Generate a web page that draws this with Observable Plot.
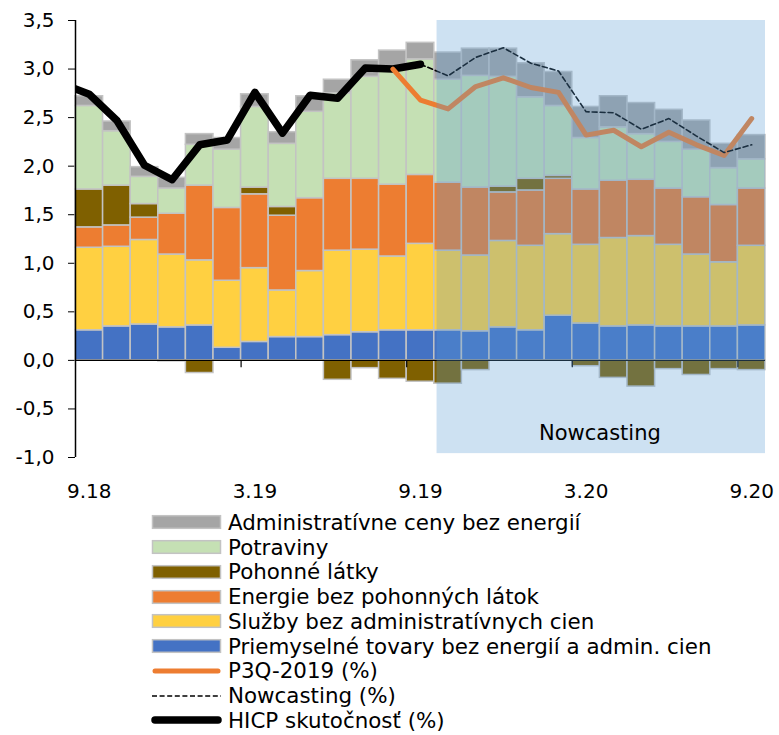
<!DOCTYPE html>
<html><head><meta charset="utf-8">
<script src="https://cdn.jsdelivr.net/npm/d3@7"></script>
<script src="https://cdn.jsdelivr.net/npm/@observablehq/plot@0.6"></script>
<style>
body{margin:0;background:#fff;font-family:"DejaVu Sans",Verdana,sans-serif;}
#legend{margin-left:151px;padding-top:5px;}
.row{display:flex;align-items:center;height:24.75px;font-size:21.4px;color:#000;white-space:nowrap;}
.row svg{margin-right:6px;flex:none;}
</style></head><body>
<div id="chart"></div>
<div id="legend"></div>
<script>
// ---- data ----
const months = ["9.18","10.18","11.18","12.18","1.19","2.19","3.19","4.19","5.19","6.19","7.19","8.19",
  "9.19","10.19","11.19","12.19","1.20","2.20","3.20","4.20","5.20","6.20","7.20","8.20","9.20"];
const tickLabels = ["9.18","3.19","9.19","3.20","9.20"];
const yTickValues = [-1,-0.5,0,0.5,1,1.5,2,2.5,3,3.5];

// stack order, bottom -> top
const seriesNames = [
  "Priemyselné tovary bez energií a admin. cien",
  "Služby bez administratívnych cien",
  "Energie bez pohonných látok",
  "Pohonné látky",
  "Potraviny",
  "Administratívne ceny bez energií"
];
const seriesColors = ["#4472c4","#ffd041","#ed7d31","#7f6000","#c5e0b4","#a5a5a5"];

const industrial = [0.31,0.35,0.37,0.34,0.36,0.13,0.19,0.24,0.24,0.26,0.29,0.31,0.31,0.31,0.30,0.34,0.31,0.46,0.38,0.35,0.36,0.35,0.35,0.35,0.36];
const services   = [0.85,0.82,0.87,0.75,0.67,0.69,0.76,0.48,0.68,0.87,0.85,0.76,0.89,0.82,0.78,0.89,0.87,0.84,0.81,0.91,0.92,0.84,0.74,0.66,0.82];
const energy     = [0.21,0.22,0.23,0.42,0.77,0.75,0.76,0.77,0.75,0.74,0.73,0.74,0.71,0.70,0.70,0.50,0.57,0.57,0.57,0.59,0.58,0.58,0.59,0.59,0.59];
const fuels      = [0.39,0.41,0.14,-0.01,-0.13,0,0.07,0.09,0,-0.20,-0.08,-0.19,-0.22,-0.24,-0.10,0.06,0.12,0.03,-0.06,-0.18,-0.27,-0.09,-0.15,-0.09,-0.10];
const food       = [0.86,0.56,0.28,0.26,0.42,0.60,0.83,0.65,0.89,0.88,1.05,1.20,1.19,1.06,1.15,1.13,0.84,0.72,0.53,0.55,0.47,0.48,0.49,0.38,0.30];
const admin      = [0.10,0.10,0.10,0.11,0.11,0.12,0.13,0.12,0.16,0.14,0.17,0.18,0.17,0.28,0.28,0.29,0.35,0.35,0.32,0.32,0.32,0.33,0.30,0.25,0.25];

// HICP actual (%), 9.18 - 9.19; previous month 8.18 runs in from the left edge
const hicpPrev = 2.85;
const hicp = [2.74,2.47,2.01,1.86,2.22,2.27,2.76,2.34,2.73,2.70,3.01,3.00,3.05];
// P3Q-2019 forecast, 8.19 - 9.20
const p3qStart = "8.19";
const p3q = [3.00,2.68,2.59,2.82,2.91,2.81,2.76,2.32,2.37,2.20,2.35,2.22,2.11,2.49];
// Nowcasting, 9.19 - 9.20
const nowStart = "9.19";
const nowcast = [3.05,2.93,3.12,3.22,3.06,2.98,2.56,2.55,2.38,2.49,2.31,2.14,2.22];

// shaded nowcasting area (x in month-index units, y in %)
const nowcastSpan = {x1: 13.1, x2: 25, y1: -0.96, y2: 3.5};
const nowcastLabel = {text: "Nowcasting", x: 19, y: -0.75};

// ---- build tables ----
const componentArrays = [industrial, services, energy, fuels, food, admin];
const rows = [];
months.forEach((m, i) => {
  componentArrays.forEach((arr, s) => {
    if (arr[i] !== 0) rows.push({i, month: m, series: seriesNames[s], value: arr[i]});
  });
});
const hicpRows = [{i: -1, v: hicpPrev}, ...hicp.map((v, k) => ({i: k, v}))];
const p3qRows = p3q.map((v, k) => ({i: months.indexOf(p3qStart) + k, v}));
const nowRows = nowcast.map((v, k) => ({i: months.indexOf(nowStart) + k, v}));
const xTickPos = tickLabels.map(l => months.indexOf(l) + 0.5);
const boundaryTicks = tickLabels.slice(1).map(l => months.indexOf(l));

const fmt = d => d.toFixed(1).replace(".", ",");

const chart = Plot.plot({
  width: 779,
  height: 505,
  marginLeft: 75,
  marginRight: 14,
  marginTop: 20,
  marginBottom: 48,
  style: {fontFamily: "'DejaVu Sans', Verdana, sans-serif", fontSize: "20px", color: "#000", background: "#fff"},
  x: {domain: [0, months.length], ticks: xTickPos, tickFormat: d => months[Math.floor(d)], tickSize: 0, tickPadding: 26, label: null},
  y: {domain: [-1, 3.5], ticks: yTickValues, tickFormat: fmt, tickSize: 7, tickPadding: 14, label: null},
  color: {domain: seriesNames, range: seriesColors},
  marks: [
    Plot.rectY(rows, Plot.stackY({
      x1: d => d.i, x2: d => d.i + 1, y: "value", z: "series", fill: "series",
      order: seriesNames, stroke: "#c3c3c3", strokeWidth: 1.5
    })),
    Plot.ruleY([0], {stroke: "#000", strokeWidth: 1.2}),
    Plot.ruleX([0], {stroke: "#000", strokeWidth: 1.5}),
    Plot.ruleX(boundaryTicks, {x: d => d, y1: 0, y2: -0.075, stroke: "#000", strokeWidth: 1.2}),
    Plot.line(hicpRows, {x: d => d.i + 0.5, y: "v", stroke: "#000", strokeWidth: 7.5, strokeLinecap: "round", strokeLinejoin: "round", clip: true}),
    Plot.line(p3qRows, {x: d => d.i + 0.5, y: "v", stroke: "#ed7d31", strokeWidth: 5, strokeLinecap: "round", strokeLinejoin: "round"}),
    Plot.line(nowRows, {x: d => d.i + 0.5, y: "v", stroke: "#000", strokeWidth: 1.6, strokeDasharray: "5,3"}),
    Plot.rect([nowcastSpan], {x1: "x1", x2: "x2", y1: "y1", y2: "y2", fill: "#5b9bd5", fillOpacity: 0.3}),
    Plot.text([nowcastLabel], {x: "x", y: "y", text: "text", fontSize: 21, fill: "#000"})
  ]
});
document.getElementById("chart").appendChild(chart);

// ---- legend ----
const legendItems = [
  ...seriesNames.map((n, s) => ({label: n, type: "box", color: seriesColors[s]})).reverse(),
  {label: "P3Q-2019 (%)", type: "line", color: "#ed7d31", width: 5},
  {label: "Nowcasting (%)", type: "dash", color: "#000", width: 1.6},
  {label: "HICP skutočnosť (%)", type: "line", color: "#000", width: 7.5}
];
const legend = d3.select("#legend");
legendItems.forEach(item => {
  const row = legend.append("div").attr("class", "row");
  const svg = row.append("svg").attr("width", 71).attr("height", 20);
  if (item.type === "box") {
    svg.append("rect").attr("x", 1.5).attr("y", 3.7).attr("width", 68).attr("height", 12.6)
      .attr("fill", item.color).attr("stroke", "#c3c3c3").attr("stroke-width", 1.5);
  } else {
    svg.append("line").attr("x1", item.type === "dash" ? 1 : 4).attr("x2", item.type === "dash" ? 70 : 67)
      .attr("y1", 10).attr("y2", 10)
      .attr("stroke", item.color).attr("stroke-width", item.width)
      .attr("stroke-linecap", item.type === "dash" ? "butt" : "round")
      .attr("stroke-dasharray", item.type === "dash" ? "5,2.6" : null);
  }
  row.append("span").text(item.label);
});
</script>
</body></html>
